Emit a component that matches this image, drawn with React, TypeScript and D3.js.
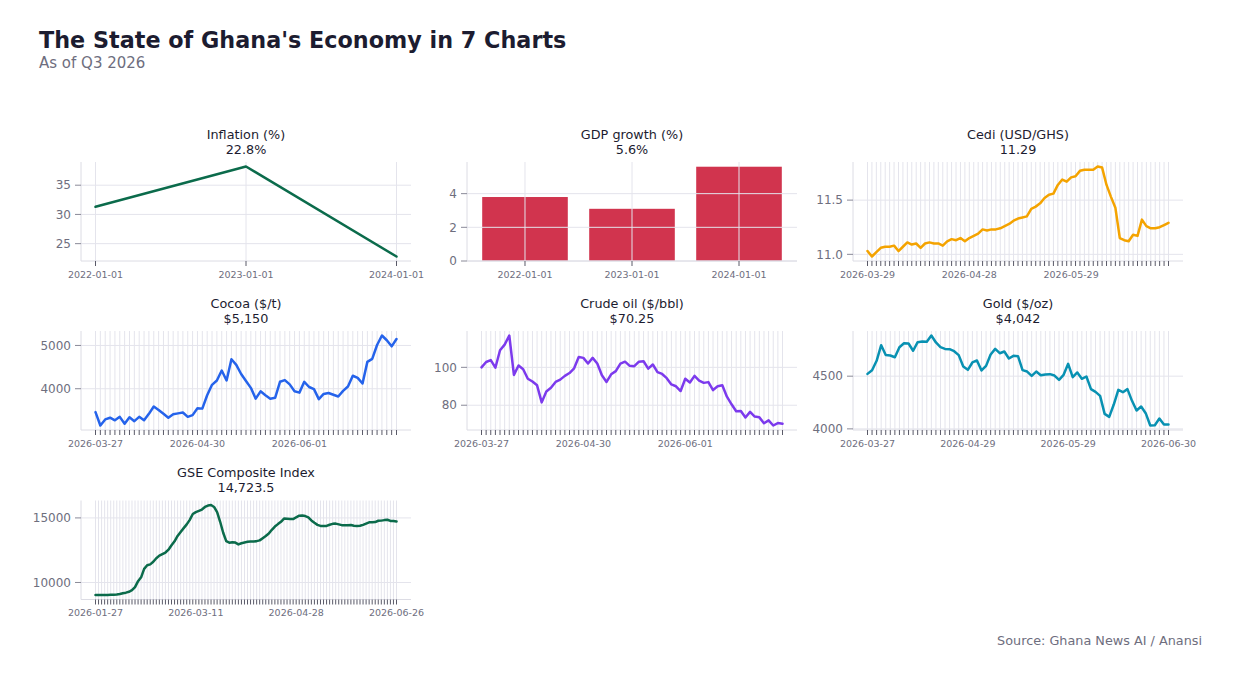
import React, { useEffect, useRef } from 'react';
import * as d3 from 'd3';

// annual series
const yearLabels = ['2022-01-01', '2023-01-01', '2024-01-01'];
const inflationValues = [31.3, 38.2, 22.8];
const gdpValues = [3.8, 3.1, 5.6];

// daily series
const cediValues = [
  11.03, 10.98, 11.02, 11.06, 11.07, 11.07, 11.08, 11.03, 11.07, 11.11,
  11.09, 11.1, 11.06, 11.1, 11.11, 11.1, 11.1, 11.08, 11.12, 11.14,
  11.13, 11.15, 11.12, 11.15, 11.17, 11.19, 11.23, 11.22, 11.23, 11.23,
  11.24, 11.26, 11.28, 11.31, 11.33, 11.34, 11.35, 11.42, 11.44, 11.47,
  11.52, 11.55, 11.56, 11.64, 11.69, 11.67, 11.71, 11.72, 11.77, 11.78,
  11.78, 11.78, 11.81, 11.8, 11.64, 11.53, 11.43, 11.15, 11.13, 11.12,
  11.18, 11.17, 11.32, 11.26, 11.24, 11.24, 11.25, 11.27, 11.29,
];
const cediTickIdx = [0, 23, 46];
const cediTickLabels = ['2026-03-29', '2026-04-28', '2026-05-29'];

const cocoaValues = [
  3460, 3150, 3290, 3330, 3270, 3350, 3190, 3340, 3250, 3350,
  3270, 3420, 3590, 3510, 3420, 3330, 3410, 3430, 3450, 3350,
  3390, 3550, 3540, 3850, 4090, 4190, 4420, 4190, 4680, 4550,
  4340, 4180, 4020, 3770, 3940, 3850, 3770, 3790, 4160, 4200,
  4100, 3940, 3910, 4160, 4040, 3990, 3760, 3880, 3900, 3860,
  3820, 3950, 4050, 4300, 4250, 4120, 4620, 4690, 5010, 5230,
  5120, 4980, 5150,
];
const cocoaTickIdx = [0, 21, 42];
const cocoaTickLabels = ['2026-03-27', '2026-04-30', '2026-06-01'];

const crudeValues = [
  100.0, 102.8, 103.8, 99.8, 109.0, 112.0, 116.8, 96.0, 101.0, 99.0,
  94.0, 92.5, 90.5, 81.5, 87.3, 89.2, 92.3, 93.5, 95.5, 97.0,
  99.5, 105.5, 105.0, 102.0, 105.0, 102.0, 95.8, 92.3, 96.3, 98.0,
  102.0, 103.0, 100.8, 100.6, 103.0, 103.2, 99.3, 101.5, 97.5, 96.5,
  94.3, 91.0, 90.0, 87.5, 94.0, 92.0, 95.5, 93.0, 91.8, 92.2,
  88.0, 90.0, 90.5, 84.5, 80.5, 76.8, 77.0, 73.5, 76.5, 74.0,
  73.6, 70.5, 72.0, 69.3, 70.6, 70.25,
];
const crudeTickIdx = [0, 22, 44];
const crudeTickLabels = ['2026-03-27', '2026-04-30', '2026-06-01'];

const goldValues = [
  4522, 4557, 4646, 4794, 4700, 4696, 4680, 4775, 4813, 4810,
  4741, 4823, 4829, 4826, 4886, 4820, 4775, 4759, 4756, 4737,
  4700, 4592, 4560, 4630, 4649, 4554, 4598, 4706, 4759, 4718,
  4734, 4668, 4693, 4690, 4557, 4544, 4503, 4544, 4509, 4516,
  4519, 4506, 4465, 4513, 4617, 4491, 4535, 4475, 4497, 4377,
  4351, 4313, 4142, 4114, 4231, 4370, 4348, 4377, 4266, 4174,
  4212, 4149, 4032, 4035, 4098, 4041, 4042,
];
const goldTickIdx = [0, 22, 44, 66];
const goldTickLabels = ['2026-03-27', '2026-04-29', '2026-05-29', '2026-06-30'];

const gseValues = [
  9030, 9030, 9030, 9035, 9035, 9040, 9050, 9070, 9110, 9170,
  9210, 9280, 9400, 9640, 10100, 10400, 11050, 11330, 11400, 11600,
  11880, 12080, 12200, 12320, 12540, 12880, 13190, 13600, 13910, 14210,
  14500, 14850, 15300, 15450, 15540, 15650, 15850, 15960, 16000, 15850,
  15450, 14700, 13850, 13200, 13080, 13120, 13090, 12950, 13040, 13100,
  13150, 13170, 13180, 13200, 13260, 13430, 13600, 13790, 14080, 14330,
  14520, 14700, 14950, 14940, 14920, 14910, 15050, 15170, 15180, 15140,
  15040, 14800, 14620, 14460, 14380, 14370, 14380, 14470, 14540, 14560,
  14500, 14440, 14430, 14440, 14450, 14400, 14370, 14390, 14460, 14560,
  14660, 14670, 14680, 14780, 14790, 14830, 14860, 14770, 14760, 14723.5,
];
const gseTickIdx = [0, 33, 66, 99];
const gseTickLabels = ['2026-01-27', '2026-03-11', '2026-04-28', '2026-06-26'];

const FONT = "'DejaVu Sans', sans-serif";
const colX = [81, 467, 853];
const rowY = [162, 331, 500.5];
const PW = 330;
const PH = 99;
const INSET = 14.5;

interface Panel {
  title: string
  value: string
  col: number
  row: number
  kind: 'line' | 'bar'
  values: number[]
  tickIdx: number[]
  tickLabels: string[]
  yTicks: number[]
  yFormat: (v: number) => string
  color: string
}

const panels: Panel[] = [
  { title: 'Inflation (%)', value: '22.8%', col: 0, row: 0, kind: 'line', values: inflationValues,
    tickIdx: [0, 1, 2], tickLabels: yearLabels, yTicks: [25, 30, 35], yFormat: d3.format('d'), color: '#0b6b4b' },
  { title: 'GDP growth (%)', value: '5.6%', col: 1, row: 0, kind: 'bar', values: gdpValues,
    tickIdx: [0, 1, 2], tickLabels: yearLabels, yTicks: [0, 2, 4], yFormat: d3.format('d'), color: '#d1344e' },
  { title: 'Cedi (USD/GHS)', value: '11.29', col: 2, row: 0, kind: 'line', values: cediValues,
    tickIdx: cediTickIdx, tickLabels: cediTickLabels, yTicks: [11.0, 11.5], yFormat: d3.format('.1f'), color: '#f4a300' },
  { title: 'Cocoa ($/t)', value: '$5,150', col: 0, row: 1, kind: 'line', values: cocoaValues,
    tickIdx: cocoaTickIdx, tickLabels: cocoaTickLabels, yTicks: [4000, 5000], yFormat: d3.format('d'), color: '#2563eb' },
  { title: 'Crude oil ($/bbl)', value: '$70.25', col: 1, row: 1, kind: 'line', values: crudeValues,
    tickIdx: crudeTickIdx, tickLabels: crudeTickLabels, yTicks: [80, 100], yFormat: d3.format('d'), color: '#7c3aed' },
  { title: 'Gold ($/oz)', value: '$4,042', col: 2, row: 1, kind: 'line', values: goldValues,
    tickIdx: goldTickIdx, tickLabels: goldTickLabels, yTicks: [4000, 4500], yFormat: d3.format('d'), color: '#0891b2' },
  { title: 'GSE Composite Index', value: '14,723.5', col: 0, row: 2, kind: 'line', values: gseValues,
    tickIdx: gseTickIdx, tickLabels: gseTickLabels, yTicks: [10000, 15000], yFormat: d3.format('d'), color: '#0b6b4b' },
];

const App = () => {
  const ref = useRef<SVGSVGElement>(null);

  useEffect(() => {
    const svg = d3.select(ref.current);
    svg.selectAll('*').remove();

    svg.append('rect').attr('width', 1233).attr('height', 677).attr('fill', '#ffffff');

    svg.append('text')
      .attr('x', 39).attr('y', 47.5)
      .attr('font-size', 22.3).attr('font-weight', 'bold')
      .attr('fill', '#1c1c30')
      .text("The State of Ghana's Economy in 7 Charts");
    svg.append('text')
      .attr('x', 39).attr('y', 67.5)
      .attr('font-size', 15)
      .attr('fill', '#6e6e7e')
      .text('As of Q3 2026');

    panels.forEach((p) => {
      const g = svg.append('g').attr('transform', `translate(${colX[p.col]},${rowY[p.row]})`);
      const idx = d3.range(p.values.length);
      const [lo, hi] = d3.extent(p.values) as [number, number];
      const pad = (hi - lo) * 0.05;
      const y = d3.scaleLinear()
        .domain(p.kind === 'bar' ? [0, hi * 1.05] : [lo - pad, hi + pad])
        .range([PH, 0]);

      let xPos: (i: number) => number;
      let band = 0;
      if (p.kind === 'bar') {
        const xb = d3.scaleBand<number>().domain(idx).range([0, PW]).paddingInner(0.2).paddingOuter(0.142);
        band = xb.bandwidth();
        xPos = (i) => (xb(i) as number) + band / 2;
      } else {
        const xp = d3.scalePoint<number>().domain(idx).range([INSET, PW - INSET]);
        xPos = (i) => xp(i) as number;
      }

      const grid = () => {
        const gg = g.append('g').attr('stroke', '#e4e4ec').attr('stroke-width', 1);
        gg.selectAll('.hg').data(p.yTicks).enter().append('line')
          .attr('x1', 0).attr('x2', PW)
          .attr('y1', (d) => y(d)).attr('y2', (d) => y(d));
        gg.selectAll('.vg').data(idx).enter().append('line')
          .attr('x1', (d) => xPos(d)).attr('x2', (d) => xPos(d))
          .attr('y1', 0).attr('y2', PH);
      };

      if (p.kind === 'bar') {
        g.selectAll('.bar').data(p.values).enter().append('rect')
          .attr('x', (d, i) => xPos(i) - band / 2)
          .attr('width', band)
          .attr('y', (d) => y(d))
          .attr('height', (d) => PH - y(d))
          .attr('fill', p.color);
        grid();
      } else {
        grid();
        const line = d3.line<number>().x((d, i) => xPos(i)).y((d) => y(d));
        g.append('path')
          .datum(p.values)
          .attr('d', line)
          .attr('fill', 'none')
          .attr('stroke', p.color)
          .attr('stroke-width', 2.5)
          .attr('stroke-linejoin', 'round')
          .attr('stroke-linecap', 'round');
      }

      // spines
      g.append('line').attr('x1', 0).attr('x2', 0).attr('y1', 0).attr('y2', PH)
        .attr('stroke', '#dcdce4');
      g.append('line').attr('x1', 0).attr('x2', PW).attr('y1', PH).attr('y2', PH)
        .attr('stroke', '#dcdce4');

      // y axis
      g.selectAll('.yt').data(p.yTicks).enter().append('line')
        .attr('x1', -6).attr('x2', 0)
        .attr('y1', (d) => y(d)).attr('y2', (d) => y(d))
        .attr('stroke', '#8a8a98');
      g.selectAll('.yl').data(p.yTicks).enter().append('text')
        .attr('x', -10).attr('y', (d) => y(d))
        .attr('dy', '0.35em')
        .attr('text-anchor', 'end')
        .attr('font-size', 12)
        .attr('fill', '#6e6e7e')
        .text((d) => p.yFormat(d));

      // x axis
      g.selectAll('.xt').data(idx).enter().append('line')
        .attr('x1', (d) => xPos(d)).attr('x2', (d) => xPos(d))
        .attr('y1', PH).attr('y2', PH + 5)
        .attr('stroke', '#5a5a68');
      g.selectAll('.xl').data(p.tickIdx).enter().append('text')
        .attr('x', (d) => xPos(d)).attr('y', PH + 16.5)
        .attr('text-anchor', 'middle')
        .attr('font-size', 9.5)
        .attr('fill', '#6e6e7e')
        .text((d, i) => p.tickLabels[i]);

      // titles
      g.append('text').attr('x', PW / 2).attr('y', -23.5)
        .attr('text-anchor', 'middle').attr('font-size', 12.8).attr('fill', '#1c1c30')
        .text(p.title);
      g.append('text').attr('x', PW / 2).attr('y', -8.5)
        .attr('text-anchor', 'middle').attr('font-size', 12.8).attr('fill', '#1c1c30')
        .text(p.value);
    });

    svg.append('text')
      .attr('x', 1202).attr('y', 644.5)
      .attr('text-anchor', 'end')
      .attr('font-size', 12.8)
      .attr('fill', '#6e6e7e')
      .text('Source: Ghana News AI / Anansi');
  }, []);

  return (
    <svg
      ref={ref}
      width={1233}
      height={677}
      style={{ position: 'absolute', left: 0, top: 0, fontFamily: FONT }}
    />
  );
};

export default App;
